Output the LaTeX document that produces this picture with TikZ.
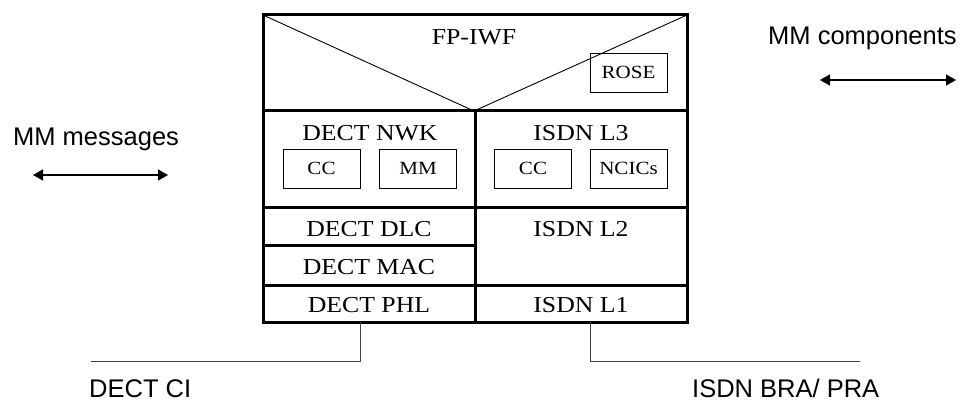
\documentclass[tikz,border=0pt]{standalone}
\usepackage{fontspec}
\setmainfont{Liberation Serif}[FakeStretch=1.13]
\newfontfamily\arialf{Liberation Sans}
\usetikzlibrary{arrows.meta}
\begin{document}
\begin{tikzpicture}[x=1pt,y=-1pt,
 thickline/.style={line width=3pt},
 thinline/.style={line width=0.9pt},
 layertext/.style={font=\fontsize{22.8}{25}\selectfont, anchor=base, inner sep=0pt},
 smallbox/.style={draw, line width=0.9pt, minimum width=77pt, minimum height=39pt, inner sep=0pt, font=\fontsize{18.6}{21}\selectfont},
 labeltext/.style={font=\arialf\fontsize{25.5}{28}\selectfont, anchor=base west, inner sep=0pt, text depth=0pt},
 dblarrow/.style={line width=1.4pt, {Triangle[length=10pt,width=11pt]}-{Triangle[length=10pt,width=11pt]}},
 wire/.style={line width=0.9pt, draw=black!75}]
\useasboundingbox (0,0) rectangle (966,401);
% diagonals of FP-IWF
\coordinate (tl) at (263,15);
\coordinate (tr) at (687,15);
\coordinate (vx) at (474,111);
\draw[thinline] (tl) -- (vx) -- (tr);
% grid
\draw[thickline] (263,15) rectangle (687,322);
\draw[thickline] (263,111) -- (687,111);
\draw[thickline] (475,111) -- (475,322);
\draw[thickline] (263,207) -- (687,207);
\draw[thickline] (263,245) -- (475,245);
\draw[thickline] (263,285) -- (687,285);
% layer texts
\node[layertext] (fpiwf) at (474,45) {FP-IWF};
\node[layertext] (nwk) at (370,140) {DECT NWK};
\node[layertext] (l3) at (581,140) {ISDN L3};
\node[layertext] (dlc) at (369,236) {DECT DLC};
\node[layertext] (l2) at (581,236) {ISDN L2};
\node[layertext] (mac) at (369,274) {DECT MAC};
\node[layertext] (phl) at (369,312) {DECT PHL};
\node[layertext] (l1) at (581,312) {ISDN L1};
% small boxes
\node[smallbox] (rose) at (628.5,72.5) {ROSE};
\node[smallbox] (cc1) at (321.5,168.5) {CC};
\node[smallbox] (mm) at (418,168.5) {MM};
\node[smallbox] (cc2) at (533,168.5) {CC};
\node[smallbox] (ncics) at (628.5,168.5) {NCICs};
% side labels and arrows
\node[labeltext] (mmmsg) at (13,146) {MM messages};
\coordinate (a1l) at (33,175);
\coordinate (a1r) at (168,175);
\draw[dblarrow] (a1l) -- (a1r);
\node[labeltext] (mmcomp) at (768,45) {MM components};
\coordinate (a2l) at (820,80);
\coordinate (a2r) at (956,80);
\draw[dblarrow] (a2l) -- (a2r);
% interfaces
\coordinate (phlb) at (360,322);
\coordinate (cil) at (91,361);
\draw[wire] (phlb) |- (cil);
\coordinate (l1b) at (590,322);
\coordinate (brar) at (860,361);
\draw[wire] (l1b) |- (brar);
\node[labeltext] (dectci) at (89,397) {DECT CI};
\node[labeltext] (isdnbra) at (692,397) {ISDN BRA/ PRA};
\end{tikzpicture}
\end{document}
